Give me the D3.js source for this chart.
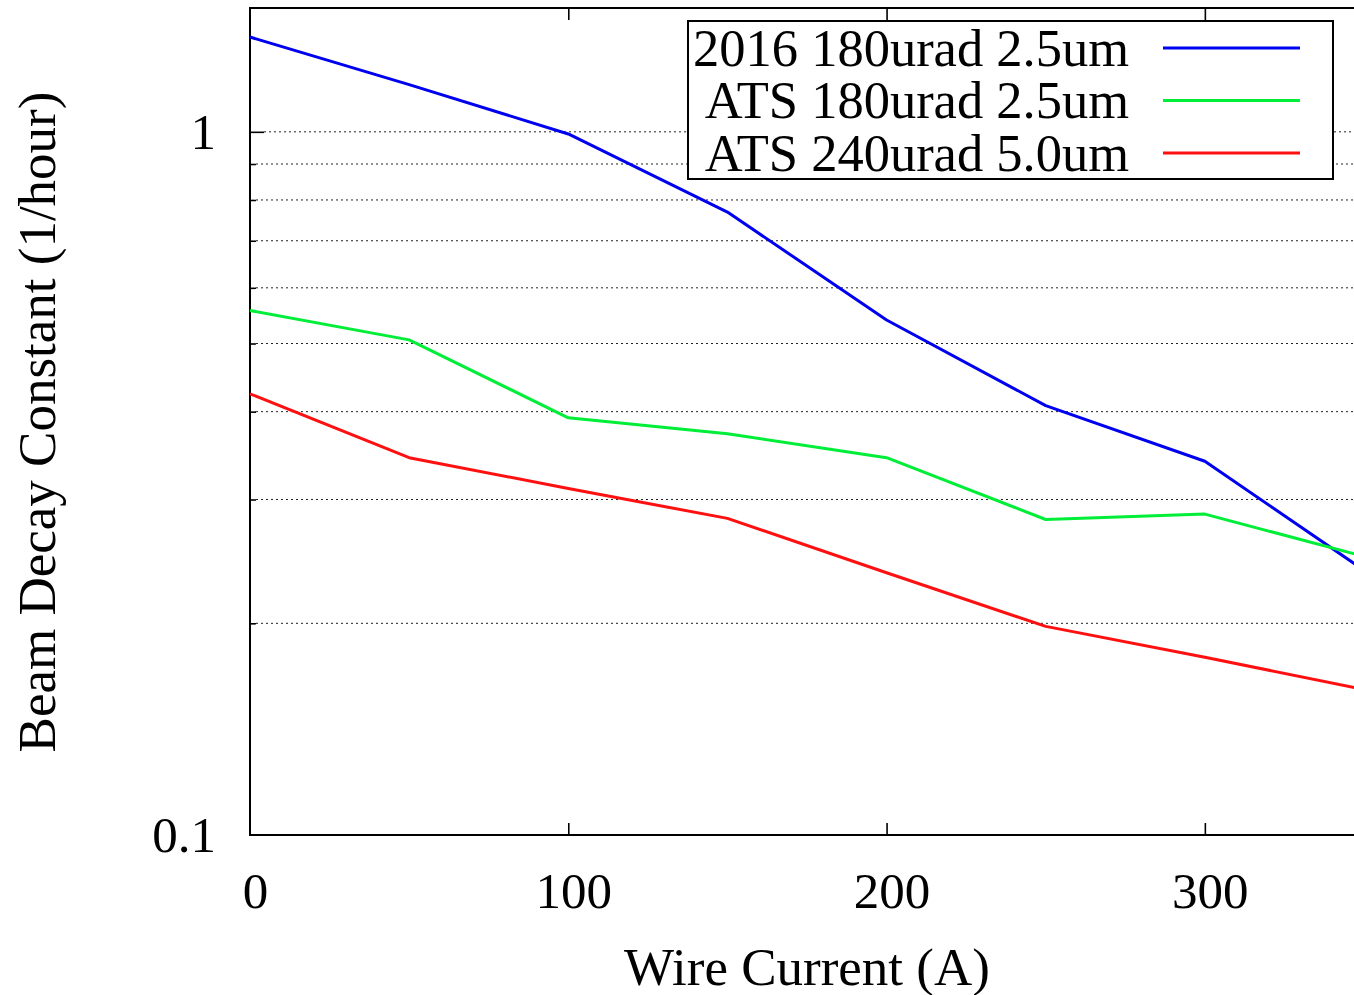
<!DOCTYPE html>
<html>
<head>
<meta charset="utf-8">
<script src="https://cdn.jsdelivr.net/npm/d3@7"></script>
<style>
  body { margin: 0; background: #fff; }
  text { font-family: "Liberation Serif", "Times New Roman", serif; fill: #000; }
  .grid line { stroke: #222; stroke-dasharray: 2,3; stroke-width: 1; }
  .axis path { display: none; }
  .axis line { stroke: #000; stroke-width: 1.6; }
</style>
</head>
<body>
<div id="chart-area"></div>
<script>
/* Data */
const wireCurrent = [0, 50, 100, 150, 200, 250, 300, 350];
const run2016_180 = [1.364, 1.167, 0.993, 0.769, 0.540, 0.408, 0.340, 0.238];
const ats180 = [0.557, 0.506, 0.392, 0.372, 0.344, 0.281, 0.286, 0.249];
const ats240 = [0.424, 0.344, 0.311, 0.282, 0.236, 0.198, 0.179, 0.161];

const seriesNames  = ['2016 180urad 2.5um', 'ATS 180urad 2.5um', 'ATS 240urad 5.0um'];
const seriesValues = [run2016_180, ats180, ats240];
const seriesColors = ['#0000f0', '#00ee38', '#ff1010'];

const xTickValues     = [0, 100, 200, 300];
const yLabelValues    = [0.1, 1];
const yMinorValues    = [0.2, 0.3, 0.4, 0.5, 0.6, 0.7, 0.8, 0.9];
const yGridValues     = [0.2, 0.3, 0.4, 0.5, 0.6, 0.7, 0.8, 0.9, 1];


/* SVG */
const margin = { left: 250, right: -10, top: 8, bottom: 160 };
const width  = 1354 - margin.left - margin.right;
const height = 995 - margin.top - margin.bottom;

const svg = d3.select('#chart-area')
    .append('svg')
    .attr('width', 1354)
    .attr('height', 995);

const g = svg.append('g')
    .attr('transform', `translate(${margin.left}, ${margin.top})`);


/* Scales */
const x = d3.scaleLinear()
    .domain([0, 350])
    .range([0, width]);

const y = d3.scaleLog()
    .domain([0.1, 1.5])
    .range([height, 0]);


/* Grid */
g.append('g')
    .attr('class', 'grid')
    .selectAll('line')
    .data(yGridValues)
    .enter().append('line')
        .attr('x1', d => d === 1 ? 14 : 6)
        .attr('x2', width)
        .attr('y1', d => y(d))
        .attr('y2', d => y(d));


/* Axis */
const xAxis = g.append('g')
    .attr('class', 'x axis')
    .attr('transform', `translate(0,${height})`)
    .call(d3.axisBottom(x)
        .tickValues(xTickValues)
        .tickSizeInner(-12)
        .tickSizeOuter(0)
        .tickPadding(37)
        .tickFormat(d3.format('d')));

xAxis.selectAll('text')
    .attr('font-size', '51px')
    .attr('dx', 5);
xAxis.selectAll('.tick line').filter(d => d === 0).remove();

g.append('g')
    .attr('class', 'x axis top')
    .call(d3.axisTop(x)
        .tickValues(xTickValues.filter(d => d > 0))
        .tickSizeInner(-12)
        .tickSizeOuter(0)
        .tickFormat(''));

const yAxis = g.append('g')
    .attr('class', 'y axis')
    .call(d3.axisLeft(y)
        .tickValues(yLabelValues)
        .tickSizeInner(-14)
        .tickSizeOuter(0)
        .tickPadding(34)
        .tickFormat(d3.format('')));

yAxis.selectAll('text').attr('font-size', '51px');
yAxis.selectAll('.tick line').filter(d => d === 0.1).remove();

g.append('g')
    .attr('class', 'y axis minor')
    .call(d3.axisLeft(y)
        .tickValues(yMinorValues)
        .tickSizeInner(-6)
        .tickSizeOuter(0)
        .tickFormat(''));


/* Frame */
g.append('rect')
    .attr('width', width)
    .attr('height', height)
    .attr('fill', 'none')
    .attr('stroke', '#000')
    .attr('stroke-width', 2);


/* Lines */
const line = d3.line()
    .x((d, i) => x(wireCurrent[i]))
    .y(d => y(d));

g.selectAll('.series')
    .data(seriesValues)
    .enter().append('path')
        .attr('class', 'series')
        .attr('fill', 'none')
        .attr('stroke', (d, i) => seriesColors[i])
        .attr('stroke-width', 3)
        .attr('stroke-linejoin', 'round')
        .attr('d', line);


/* Legend */
const legend = svg.append('g')
    .attr('transform', 'translate(688, 21)');

legend.append('rect')
    .attr('width', 645)
    .attr('height', 158)
    .attr('fill', '#fff')
    .attr('stroke', '#000')
    .attr('stroke-width', 2);

const rows = legend.selectAll('.row')
    .data(seriesNames)
    .enter().append('g')
        .attr('class', 'row')
        .attr('transform', (d, i) => `translate(0, ${27 + i * 52.5})`);

rows.append('text')
    .attr('x', 441)
    .attr('dy', '0.34em')
    .attr('text-anchor', 'end')
    .attr('font-size', '52.5px')
    .text(d => d);

rows.append('line')
    .attr('x1', 475)
    .attr('x2', 612)
    .attr('stroke', (d, i) => seriesColors[i])
    .attr('stroke-width', 3);


/* Labels */
svg.append('text')
    .attr('x', 807)
    .attr('y', 985)
    .attr('text-anchor', 'middle')
    .attr('font-size', '53px')
    .text('Wire Current (A)');

svg.append('text')
    .attr('transform', 'rotate(-90)')
    .attr('x', -422)
    .attr('y', 55)
    .attr('text-anchor', 'middle')
    .attr('font-size', '53px')
    .text('Beam Decay Constant (1/hour)');
</script>
</body>
</html>
